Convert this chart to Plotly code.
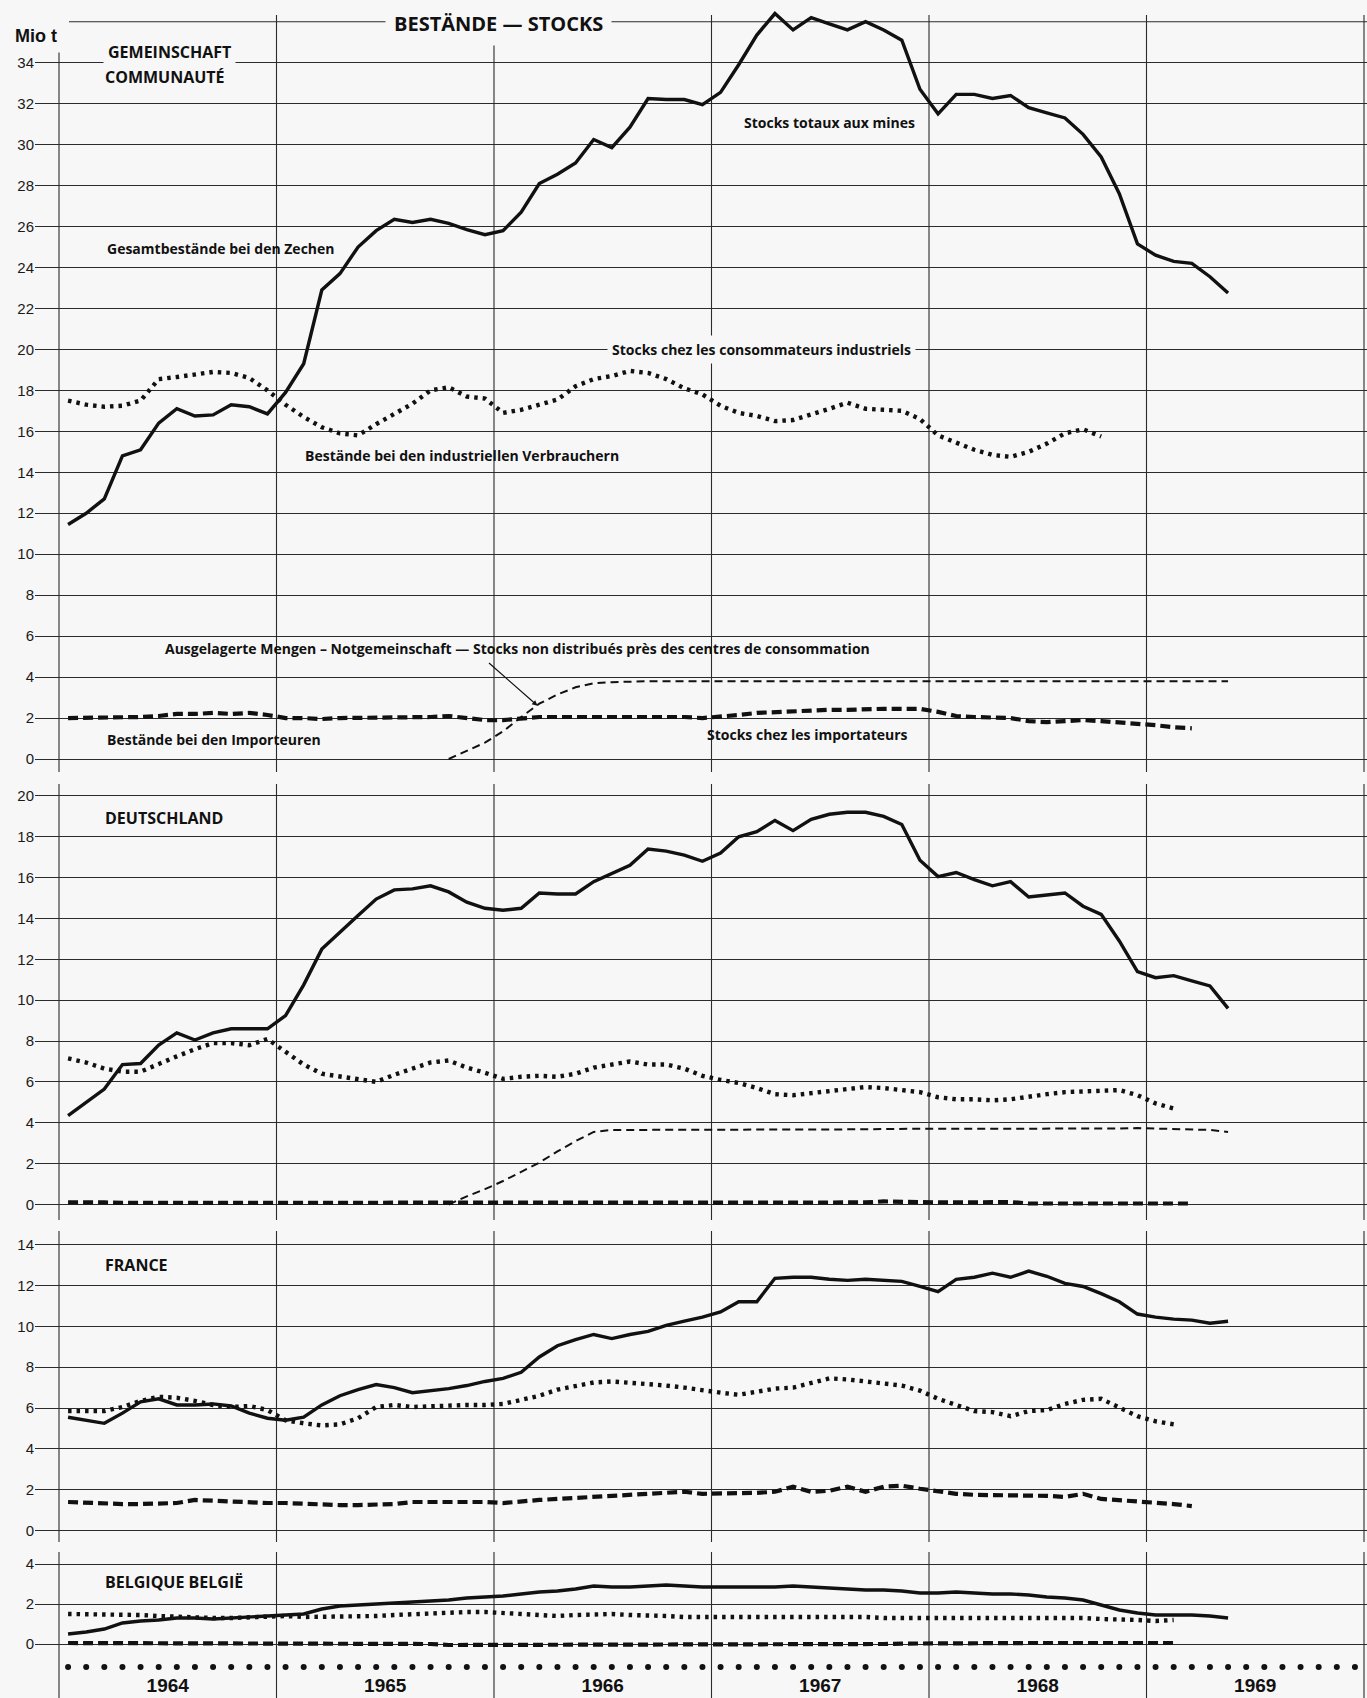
import plotly.graph_objects as go

# ---------------- DATA (monthly values, Mio t; index 0 = January 1964) ----------------
YEAR_LINES = [1964, 1965, 1966, 1967, 1968, 1969, 1970]
YEAR_TICKS = [1964.5, 1965.5, 1966.5, 1967.5, 1968.5, 1969.5]
YEAR_LABELS = ["1964", "1965", "1966", "1967", "1968", "1969"]

# Gemeinschaft / Communauté
EC_MINES = [11.45, 12.0, 12.7, 14.8, 15.1, 16.4, 17.1, 16.75, 16.8, 17.3, 17.2, 16.85,
            17.9, 19.3, 22.9, 23.7, 25.0, 25.8, 26.35, 26.2, 26.35, 26.15, 25.85, 25.6,
            25.8, 26.7, 28.1, 28.55, 29.1, 30.25, 29.85, 30.85, 32.25, 32.2, 32.2, 31.95,
            32.55, 33.9, 35.35, 36.4, 35.6, 36.2, 35.9, 35.6, 36.0, 35.6, 35.1, 32.7,
            31.5, 32.45, 32.45, 32.25, 32.4, 31.8, 31.55, 31.3, 30.5, 29.4, 27.6, 25.15,
            24.6, 24.3, 24.2, 23.55, 22.75]
EC_CONSUMERS = [17.5, 17.3, 17.2, 17.25, 17.5, 18.55, 18.65, 18.8, 18.9, 18.85, 18.6, 18.0,
                17.3, 16.7, 16.2, 15.9, 15.8, 16.35, 16.85, 17.35, 18.0, 18.15, 17.7, 17.6,
                16.9, 17.05, 17.3, 17.55, 18.2, 18.55, 18.7, 18.95, 18.85, 18.55, 18.1, 17.8,
                17.25, 16.9, 16.75, 16.5, 16.55, 16.8, 17.1, 17.4, 17.1, 17.05, 17.0, 16.6,
                15.8, 15.45, 15.1, 14.85, 14.75, 15.0, 15.4, 15.9, 16.1, 15.75]
EC_IMPORTERS = [2.0, 2.0, 2.0, 2.0, 2.05, 2.1, 2.2, 2.2, 2.25, 2.2, 2.25, 2.15,
                2.0, 2.0, 1.95, 2.0, 2.0, 2.0, 2.05, 2.05, 2.05, 2.1, 2.0, 1.9,
                1.9, 2.0, 2.05, 2.05, 2.05, 2.1, 2.1, 2.05, 2.05, 2.05, 2.05, 2.0,
                2.05, 2.15, 2.25, 2.3, 2.3, 2.35, 2.4, 2.4, 2.45, 2.45, 2.45, 2.45,
                2.3, 2.1, 2.05, 2.05, 2.0, 1.85, 1.8, 1.85, 1.9, 1.85, 1.8, 1.7,
                1.65, 1.55, 1.5]
EC_NOTGEM_START = 21
EC_NOTGEM = [0.0, 0.4, 0.8, 1.35, 2.05, 2.7, 3.15, 3.5, 3.7, 3.75, 3.78,
             3.8, 3.8, 3.8, 3.8, 3.8, 3.8, 3.8, 3.8, 3.8, 3.8, 3.8, 3.8,
             3.8, 3.8, 3.8, 3.8, 3.8, 3.8, 3.8, 3.82, 3.82, 3.82, 3.82, 3.82,
             3.82, 3.82, 3.82, 3.8, 3.8, 3.8, 3.8, 3.8, 3.8]

# Deutschland
DE_MINES = [4.35, 5.0, 5.65, 6.85, 6.9, 7.8, 8.4, 8.05, 8.4, 8.6, 8.6, 8.6,
            9.25, 10.75, 12.5, 13.35, 14.15, 14.95, 15.4, 15.45, 15.6, 15.3, 14.8, 14.5,
            14.4, 14.5, 15.25, 15.2, 15.2, 15.8, 16.2, 16.6, 17.4, 17.3, 17.1, 16.8,
            17.2, 18.0, 18.25, 18.8, 18.3, 18.85, 19.1, 19.2, 19.2, 19.0, 18.6, 16.85,
            16.05, 16.25, 15.9, 15.6, 15.8, 15.05, 15.15, 15.25, 14.6, 14.2, 12.9, 11.4,
            11.1, 11.2, 10.95, 10.7, 9.6]
DE_CONSUMERS = [7.15, 6.95, 6.65, 6.5, 6.5, 6.9, 7.25, 7.6, 7.9, 7.9, 7.8, 8.1,
                7.45, 6.85, 6.4, 6.25, 6.1, 6.0, 6.35, 6.65, 6.95, 7.05, 6.7, 6.45,
                6.15, 6.25, 6.3, 6.25, 6.4, 6.7, 6.85, 7.0, 6.85, 6.85, 6.65, 6.3,
                6.1, 5.95, 5.7, 5.4, 5.35, 5.45, 5.6, 5.7, 5.75, 5.7, 5.6, 5.5,
                5.25, 5.15, 5.15, 5.1, 5.15, 5.3, 5.4, 5.5, 5.55, 5.55, 5.6, 5.35,
                4.95, 4.7]
DE_IMPORTERS = [0.1, 0.12, 0.1, 0.08, 0.08, 0.08, 0.08, 0.08, 0.08, 0.08, 0.1, 0.1,
                0.1, 0.1, 0.1, 0.1, 0.1, 0.1, 0.1, 0.1, 0.1, 0.1, 0.1, 0.1,
                0.1, 0.12, 0.12, 0.12, 0.12, 0.1, 0.08, 0.08, 0.08, 0.08, 0.08, 0.08,
                0.08, 0.08, 0.08, 0.08, 0.08, 0.08, 0.08, 0.08, 0.1, 0.15, 0.12, 0.12,
                0.1, 0.1, 0.1, 0.1, 0.12, 0.05, 0.05, 0.03, 0.03, 0.03, 0.03, 0.05,
                0.05, 0.05, 0.05]
DE_NOTGEM_START = 21
DE_NOTGEM = [0.0, 0.4, 0.75, 1.15, 1.6, 2.05, 2.6, 3.1, 3.55, 3.65, 3.65,
             3.65, 3.65, 3.65, 3.65, 3.65, 3.65, 3.65, 3.65, 3.65, 3.68, 3.68, 3.68,
             3.68, 3.7, 3.7, 3.7, 3.7, 3.7, 3.7, 3.7, 3.72, 3.72, 3.72, 3.72,
             3.72, 3.72, 3.72, 3.74, 3.72, 3.7, 3.68, 3.65, 3.55]

# France
FR_MINES = [5.55, 5.4, 5.25, 5.75, 6.3, 6.45, 6.15, 6.15, 6.2, 6.1, 5.75, 5.5,
            5.4, 5.55, 6.15, 6.6, 6.9, 7.15, 7.0, 6.75, 6.85, 6.95, 7.1, 7.3,
            7.45, 7.75, 8.5, 9.05, 9.35, 9.6, 9.4, 9.6, 9.75, 10.05, 10.25, 10.45,
            10.7, 11.2, 11.2, 12.35, 12.4, 12.4, 12.3, 12.25, 12.3, 12.25, 12.2, 11.95,
            11.7, 12.3, 12.4, 12.6, 12.4, 12.7, 12.45, 12.1, 11.95, 11.6, 11.2, 10.6,
            10.45, 10.35, 10.3, 10.15, 10.25]
FR_CONSUMERS = [5.85, 5.85, 5.85, 6.05, 6.35, 6.55, 6.5, 6.35, 6.15, 6.05, 6.1, 5.9,
                5.4, 5.25, 5.15, 5.2, 5.5, 6.05, 6.15, 6.05, 6.1, 6.15, 6.15, 6.15,
                6.2, 6.4, 6.6, 6.9, 7.1, 7.25, 7.3, 7.25, 7.2, 7.1, 7.0, 6.85,
                6.75, 6.65, 6.8, 6.95, 7.0, 7.25, 7.45, 7.4, 7.3, 7.2, 7.1, 6.85,
                6.45, 6.15, 5.85, 5.8, 5.6, 5.85, 5.9, 6.2, 6.4, 6.45, 6.05, 5.6,
                5.35, 5.2]
FR_IMPORTERS = [1.4, 1.35, 1.3, 1.3, 1.3, 1.3, 1.35, 1.5, 1.45, 1.45, 1.4, 1.35,
                1.35, 1.3, 1.25, 1.25, 1.25, 1.25, 1.3, 1.4, 1.4, 1.45, 1.45, 1.4,
                1.35, 1.45, 1.5, 1.55, 1.6, 1.7, 1.75, 1.8, 1.85, 1.9, 1.9, 1.8,
                1.8, 1.85, 1.85, 1.9, 2.15, 1.9, 1.95, 2.15, 1.9, 2.15, 2.2, 2.05,
                1.9, 1.8, 1.75, 1.75, 1.75, 1.75, 1.7, 1.65, 1.8, 1.55, 1.5, 1.45,
                1.4, 1.3, 1.2]

# Belgique / België
BE_MINES = [0.5, 0.6, 0.75, 1.05, 1.15, 1.2, 1.3, 1.3, 1.25, 1.3, 1.35, 1.4,
            1.45, 1.5, 1.75, 1.9, 1.95, 2.0, 2.05, 2.1, 2.15, 2.2, 2.3, 2.35,
            2.4, 2.5, 2.6, 2.65, 2.75, 2.9, 2.85, 2.85, 2.9, 2.95, 2.9, 2.85,
            2.85, 2.85, 2.85, 2.85, 2.9, 2.85, 2.8, 2.75, 2.7, 2.7, 2.65, 2.55,
            2.55, 2.6, 2.55, 2.5, 2.5, 2.45, 2.35, 2.3, 2.2, 1.95, 1.7, 1.55,
            1.45, 1.45, 1.45, 1.4, 1.3]
BE_CONSUMERS = [1.5, 1.5, 1.5, 1.5, 1.45, 1.4, 1.35, 1.3, 1.3, 1.3, 1.35, 1.4,
                1.4, 1.35, 1.35, 1.35, 1.35, 1.4, 1.45, 1.5, 1.55, 1.6, 1.6, 1.6,
                1.55, 1.5, 1.45, 1.4, 1.45, 1.5, 1.5, 1.45, 1.45, 1.4, 1.35, 1.35,
                1.35, 1.35, 1.4, 1.4, 1.35, 1.35, 1.35, 1.35, 1.35, 1.3, 1.3, 1.3,
                1.3, 1.3, 1.3, 1.3, 1.35, 1.3, 1.3, 1.3, 1.3, 1.25, 1.25, 1.2,
                1.15, 1.2]
BE_IMPORTERS = [0.05, 0.05, 0.05, 0.05, 0.05, 0.05, 0.05, 0.05, 0.05, 0.05, 0.05, 0.05,
                0.05, 0.05, 0.05, 0.05, 0.05, 0.05, 0.05, 0.05, 0.0, -0.05, -0.05, -0.05,
                0.0, 0.0, 0.0, -0.02, -0.02, -0.05, -0.05, -0.05, -0.05, -0.05, -0.05, -0.05,
                -0.05, -0.05, -0.05, -0.05, -0.05, -0.05, -0.05, -0.05, -0.02, 0.0, 0.02, 0.03,
                0.05, 0.05, 0.05, 0.05, 0.05, 0.05, 0.05, 0.05, 0.05, 0.05, 0.05, 0.05,
                0.05, 0.05]
BE_BOTTOM_ROW = [-1.15] * 72

EC_TICKS = [0, 2, 4, 6, 8, 10, 12, 14, 16, 18, 20, 22, 24, 26, 28, 30, 32, 34]
DE_TICKS = [0, 2, 4, 6, 8, 10, 12, 14, 16, 18, 20]
FR_TICKS = [0, 2, 4, 6, 8, 10, 12, 14]
BE_TICKS = [0, 2, 4]

# ---------------- LAYOUT GEOMETRY (page pixels) ----------------
W, H = 1367, 1698
L_MARGIN, B_MARGIN = 35, 26
HP = H - B_MARGIN  # plot-area height (top margin 0)
X_LEFT_PX, YEAR_PX = 59, 217.5
X0 = 1964 - (X_LEFT_PX - L_MARGIN) / YEAR_PX
X1 = 1964 + (W - X_LEFT_PX) / YEAR_PX

# (pixel of zero line, px per unit, top px of axis area, bottom px, top px of year lines)
PANELS = [(759.0, 20.48, 8, 772, 15), (1204.5, 20.43, 784, 1220, 784),
          (1530.6, 20.43, 1231, 1542, 1231), (1644.0, 20.0, 1552, HP, 1552)]

BG = "#f7f7f7"
INK = "#111111"
GRID = "#2b2b2b"
LABEL_FONT = dict(family="Open Sans, Lato, sans-serif", size=14, color=INK, weight=700)
TICK_FONT = dict(family="Liberation Sans, Arial, sans-serif", size=15, color="#1a1a1a")


def xs(n, start=0):
    return [1964 + (start + k + 0.5) / 12 for k in range(n)]


SOLID = dict(color=INK, width=3.4)
DOTTED = dict(color=INK, width=4.4, dash="3.5px,5px")
IMPDASH = dict(color=INK, width=4.2, dash="10px,5px")
THINDASH = dict(color=INK, width=2.0, dash="8px,5px")

fig = go.Figure()


def add(vals, line, p, start=0):
    yref = "y" if p == 1 else f"y{p}"
    xref = "x" if p == 1 else f"x{p}"
    fig.add_trace(go.Scatter(x=xs(len(vals), start), y=vals, mode="lines", line=line,
                             xaxis=xref, yaxis=yref, showlegend=False, hoverinfo="skip"))


add(EC_NOTGEM, THINDASH, 1, EC_NOTGEM_START)
add(EC_IMPORTERS, IMPDASH, 1)
add(EC_CONSUMERS, DOTTED, 1)
add(EC_MINES, SOLID, 1)
add(DE_NOTGEM, THINDASH, 2, DE_NOTGEM_START)
add(DE_IMPORTERS, IMPDASH, 2)
add(DE_CONSUMERS, DOTTED, 2)
add(DE_MINES, SOLID, 2)
add(FR_IMPORTERS, IMPDASH, 3)
add(FR_CONSUMERS, DOTTED, 3)
add(FR_MINES, SOLID, 3)
add(BE_IMPORTERS, IMPDASH, 4)
add(BE_CONSUMERS, DOTTED, 4)
add(BE_MINES, SOLID, 4)
fig.add_trace(go.Scatter(x=xs(len(BE_BOTTOM_ROW)), y=BE_BOTTOM_ROW, mode="markers",
                         marker=dict(size=6, color=INK), xaxis="x4", yaxis="y4",
                         showlegend=False, hoverinfo="skip", cliponaxis=False))

ticks = [EC_TICKS, DE_TICKS, FR_TICKS, BE_TICKS]
layout = dict(width=W, height=H, paper_bgcolor=BG, plot_bgcolor=BG,
              margin=dict(l=L_MARGIN, r=0, t=0, b=B_MARGIN, pad=0, autoexpand=False),
              showlegend=False)
shapes = []
for i, (z, ppu, top, bot, vtop) in enumerate(PANELS):
    p = i + 1
    sfx = "" if p == 1 else str(p)
    dom = [max(0.0, 1 - bot / HP), 1 - top / HP]
    rng = [(z - bot) / ppu, (z - top) / ppu]
    layout[f"yaxis{sfx}"] = dict(domain=dom, range=rng, tickvals=ticks[i], showgrid=True,
                                 gridcolor=GRID, gridwidth=1.1, zeroline=False, ticks="",
                                 showline=False, tickfont=TICK_FONT, anchor=f"x{sfx}",
                                 fixedrange=True, automargin=False)
    xa = dict(domain=[0, 1], range=[X0, X1], showgrid=False, zeroline=False, showline=False,
              ticks="", anchor=f"y{sfx}", showticklabels=False, fixedrange=True,
              automargin=False)
    if p == 4:
        xa.update(showticklabels=True, tickvals=YEAR_TICKS, ticktext=YEAR_LABELS,
                  tickfont=dict(family="Liberation Sans Narrow, Arial Narrow, Liberation Sans, sans-serif",
                                size=19, color=INK, weight="bold"))
    layout[f"xaxis{sfx}"] = xa
    for yr in YEAR_LINES:
        y1 = (z - vtop) / ppu
        if p == 1 and yr == 1964:
            y1 = 34.5
        shapes.append(dict(type="line", xref=f"x{sfx}", yref=f"y{sfx}", x0=yr, x1=yr,
                           y0=rng[0], y1=y1, line=dict(color=GRID, width=1.1), layer="below"))
        if p == 4:
            shapes.append(dict(type="line", xref="x4", yref="paper", x0=yr, x1=yr,
                               y0=-B_MARGIN / HP, y1=0, line=dict(color=GRID, width=1.1),
                               layer="below"))
# top line of first panel (36)
shapes.append(dict(type="line", xref="x", yref="y", x0=1964.046, x1=X1, y0=36, y1=36,
                   line=dict(color=GRID, width=1.1), layer="below"))
layout["shapes"] = shapes

ann = []


def lab(text, x, y, p=1, font=LABEL_FONT, mask=False, pad=2, anchor="left"):
    sfx = "" if p == 1 else str(p)
    d = dict(text=text, x=x, y=y, xref=f"x{sfx}", yref=f"y{sfx}", showarrow=False,
             xanchor=anchor, yanchor="middle", font=font)
    if mask:
        d.update(bgcolor=BG, borderpad=pad)
    ann.append(d)


CAPS = dict(LABEL_FONT, size=16)
lab("BESTÄNDE — STOCKS", 1966.02, 35.93, font=dict(LABEL_FONT, size=20),
    mask=True, pad=8, anchor="center")
lab("GEMEINSCHAFT", 1964.2, 34.5, font=CAPS, mask=True, pad=4)
lab("COMMUNAUTÉ", 1964.2, 33.3, font=CAPS)
lab("Stocks totaux aux mines", 1967.14, 31.1)
lab("Gesamtbestände bei den Zechen", 1964.21, 24.95)
lab("Stocks chez les consommateurs industriels", 1966.52, 20.0, mask=True, pad=4)
lab("Bestände bei den industriellen Verbrauchern", 1965.12, 14.8)
lab("Ausgelagerte Mengen – Notgemeinschaft — Stocks non distribués près des centres de consommation",
    1964.48, 5.4)
lab("Bestände bei den Importeuren", 1964.21, 0.93)
lab("Stocks chez les importateurs", 1966.97, 1.22)
lab("DEUTSCHLAND", 1964.2, 18.92, p=2, font=CAPS)
lab("FRANCE", 1964.2, 13.0, p=3, font=CAPS)
lab("BELGIQUE BELGIË", 1964.2, 3.1, p=4, font=CAPS)

ann.append(dict(text="Mio t", xref="paper", yref="paper", x=(11 - L_MARGIN) / (W - L_MARGIN),
                y=1 - 36 / HP, xanchor="left", yanchor="middle", showarrow=False,
                font=dict(family="Liberation Sans, Arial, sans-serif", size=18, color=INK,
                          weight="bold"), bgcolor=BG, borderpad=3))
ann.append(dict(text="", x=1966.2, y=2.6, xref="x", yref="y", ax=1965.97, ay=4.75,
                axref="x", ayref="y", showarrow=True, arrowhead=2, arrowsize=0.9,
                arrowwidth=1.2, arrowcolor=INK))
layout["annotations"] = ann
fig.update_layout(**layout)
# remove the browser's default 8px page margin so the figure fills the window exactly
fig.write_html("out.html", config={"displayModeBar": False},
               post_script="document.body.style.margin='0';document.body.style.overflow='hidden';")
